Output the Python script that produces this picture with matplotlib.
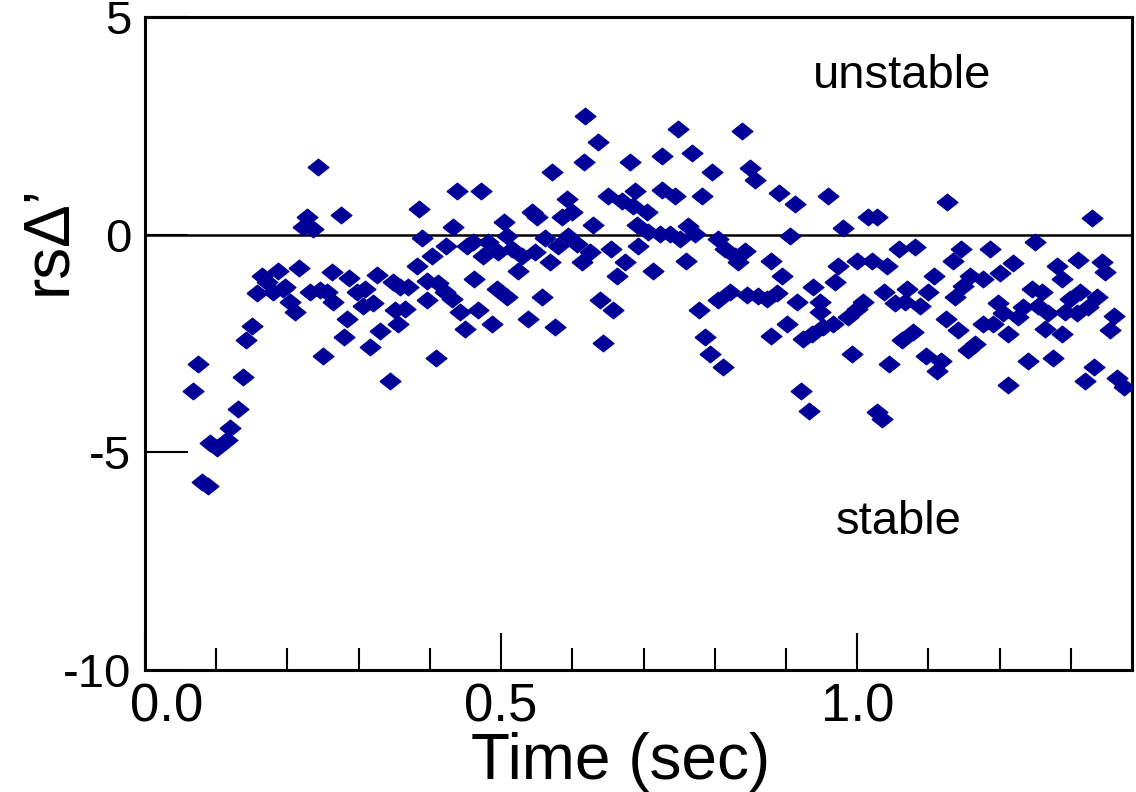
import numpy as np
import matplotlib.pyplot as plt
import matplotlib.transforms as mtransforms
from matplotlib.ticker import MultipleLocator

plt.rcParams['font.family'] = ['Liberation Sans', 'DejaVu Sans']
plt.rcParams['axes.unicode_minus'] = False

# rs*Delta' values, roughly left to right
time_s = [
    0.243, 0.275, 0.228, 0.222, 0.236, 0.187, 0.216, 0.164, 0.171, 0.157,
    0.180, 0.197, 0.204, 0.211, 0.232, 0.246, 0.256, 0.263, 0.287, 0.264,
    0.298, 0.309, 0.306, 0.320, 0.326, 0.348, 0.351, 0.284, 0.280, 0.330,
    0.316, 0.250, 0.344, 0.150, 0.142, 0.074, 0.067, 0.138, 0.131, 0.119,
    0.091, 0.101, 0.115, 0.080, 0.088, 0.355, 0.194,
    0.618, 0.636, 0.617, 0.681, 0.572, 0.438, 0.472, 0.385, 0.593, 0.650,
    0.670, 0.688, 0.685, 0.544, 0.551, 0.586, 0.600, 0.433, 0.504, 0.629,
    0.691, 0.389, 0.508, 0.562, 0.594, 0.423, 0.452, 0.461, 0.482, 0.496,
    0.515, 0.529, 0.548, 0.580, 0.607, 0.625, 0.654, 0.692, 0.403, 0.475,
    0.524, 0.569, 0.614, 0.674, 0.382, 0.663, 0.369, 0.358, 0.396, 0.412,
    0.421, 0.431, 0.462, 0.494, 0.508, 0.558, 0.396, 0.365, 0.442, 0.468,
    0.449, 0.487, 0.538, 0.576, 0.639, 0.657, 0.643, 0.409,
    0.749, 0.838, 0.726, 0.768, 0.796, 0.850, 0.857, 0.726, 0.744, 0.782,
    0.890, 0.913, 0.959, 0.705, 1.015, 1.028, 0.980, 0.706, 0.723, 0.737,
    0.751, 0.763, 0.772, 0.805, 0.906, 0.815, 0.829, 0.843, 0.833, 0.760,
    0.713, 0.879, 0.895, 1.000, 1.021, 1.042, 0.973, 0.969, 0.938, 0.822,
    0.845, 0.861, 0.874, 0.888, 0.805, 0.778, 0.916, 0.948, 0.948, 1.037,
    1.008, 1.000, 0.987, 0.966, 0.952, 0.902, 0.937, 0.924, 0.787, 0.879,
    0.794, 0.812, 0.993, 1.044, 0.921, 0.933, 1.028, 1.035,
    1.126, 1.329, 1.250, 1.058, 1.081, 1.146, 1.187, 1.135, 1.219, 1.310,
    1.344, 1.281, 1.348, 1.288, 1.108, 1.159, 1.177, 1.201, 1.149, 1.070,
    1.246, 1.260, 1.100, 1.138, 1.313, 1.337, 1.299, 1.053, 1.067, 1.088,
    1.198, 1.233, 1.254, 1.324, 1.268, 1.292, 1.309, 1.205, 1.226, 1.360,
    1.124, 1.176, 1.190, 1.142, 1.264, 1.355, 1.212, 1.288, 1.079, 1.063,
    1.166, 1.156, 1.096, 1.117, 1.112, 1.240, 1.275, 1.333, 1.320, 1.212,
    1.365, 1.374,
]
rs_delta = [
    1.56, 0.46, 0.41, 0.18, 0.14, -0.83, -0.76, -0.94, -1.08, -1.35,
    -1.31, -1.19, -1.54, -1.77, -1.31, -1.28, -1.31, -0.85, -0.99, -1.54,
    -1.31, -1.24, -1.63, -1.58, -0.92, -1.08, -1.74, -1.93, -2.36, -2.22,
    -2.59, -2.78, -3.37, -2.09, -2.43, -2.96, -3.58, -3.28, -4.01, -4.45,
    -4.79, -4.91, -4.72, -5.67, -5.78, -2.04, -1.24,
    2.73, 2.13, 1.67, 1.67, 1.44, 1.01, 1.01, 0.60, 0.83, 0.89,
    0.78, 1.01, 0.67, 0.53, 0.41, 0.41, 0.53, 0.18, 0.30, 0.23,
    0.23, -0.07, -0.02, -0.07, -0.02, -0.25, -0.25, -0.16, -0.16, -0.39,
    -0.32, -0.48, -0.39, -0.25, -0.21, -0.39, -0.34, -0.25, -0.50, -0.50,
    -0.83, -0.62, -0.62, -0.62, -0.73, -0.94, -1.19, -1.19, -1.06, -1.12,
    -1.31, -1.47, -1.01, -1.24, -1.44, -1.42, -1.49, -1.70, -1.77, -1.72,
    -2.16, -2.04, -1.93, -2.11, -1.49, -1.74, -2.48, -2.84,
    2.43, 2.39, 1.81, 1.88, 1.44, 1.54, 1.26, 1.03, 0.89, 0.89,
    0.96, 0.71, 0.89, 0.53, 0.41, 0.41, 0.16, 0.07, 0.02, 0.02,
    -0.09, 0.21, 0.02, -0.09, -0.02, -0.32, -0.48, -0.37, -0.62, -0.60,
    -0.83, -0.60, -0.94, -0.60, -0.60, -0.71, -0.73, -1.08, -1.19, -1.31,
    -1.38, -1.40, -1.47, -1.35, -1.51, -1.74, -1.54, -1.54, -1.77, -1.31,
    -1.54, -1.70, -1.88, -2.04, -2.11, -2.04, -2.27, -2.39, -2.34, -2.32,
    -2.73, -3.03, -2.73, -2.96, -3.60, -4.06, -4.08, -4.24,
    0.76, 0.39, -0.16, -0.32, -0.28, -0.32, -0.34, -0.60, -0.64, -0.57,
    -0.62, -0.73, -0.85, -1.01, -0.94, -0.94, -1.01, -0.89, -1.17, -1.24,
    -1.24, -1.31, -1.31, -1.42, -1.31, -1.42, -1.47, -1.58, -1.54, -1.63,
    -1.56, -1.65, -1.63, -1.65, -1.81, -1.77, -1.81, -1.81, -1.88, -1.86,
    -1.93, -2.04, -2.04, -2.18, -2.16, -2.18, -2.27, -2.27, -2.23, -2.43,
    -2.50, -2.66, -2.78, -2.91, -3.14, -2.91, -2.84, -3.03, -3.37, -3.46,
    -3.30, -3.49,
]

x_ticks = [0, 0.5, 1.0]
x_tick_labels = ['0.0', '0.5', '1.0']
y_ticks = [-10, -5, 0, 5]

# slightly flattened diamond like the original symbols
diamond = [(-1, 0), (0, 0.8), (1, 0), (0, -0.8), (-1, 0)]

fig = plt.figure(figsize=(11.36, 7.92), dpi=100)
ax = fig.add_axes([0.1276, 0.154, 0.869, 0.8245])

ax.scatter(time_s, rs_delta, marker=diamond, s=230, c='#000099',
           edgecolors='#000099', linewidths=0.8, zorder=3)
ax.axhline(0, color='black', lw=1.8, zorder=2)

ax.set_xlim(0, 1.386)
ax.set_ylim(-10, 5)
ax.set_yticks(y_ticks)
ax.set_xticks(x_ticks)
ax.set_xticklabels(x_tick_labels)
ax.xaxis.set_minor_locator(MultipleLocator(0.1))

ax.tick_params(axis='y', direction='in', length=31, width=1.5,
               labelsize=34, pad=10, right=False)
ax.tick_params(axis='x', which='major', direction='in', length=27,
               width=1.5, labelsize=38, pad=9, top=False)
ax.tick_params(axis='x', which='minor', direction='in', length=16,
               width=1.5, top=False)
for sp in ax.spines.values():
    sp.set_linewidth(2.2)

# the "0.0" label sits a little right of the corner, clear of "-10"
first = ax.xaxis.get_major_ticks()[0].label1
first.set_transform(first.get_transform() +
                    mtransforms.ScaledTranslation(22 / 100, 0, fig.dpi_scale_trans))

ax.set_xlabel('Time (sec)', fontsize=46, labelpad=0)
ax.xaxis.set_label_coords(0.482, -0.095, transform=ax.transAxes)
ax.xaxis.label.set_va('top')
fig.text(48 / 1136, 1 - 240 / 792, 'rsΔ’', rotation=90, fontsize=46,
         ha='center', va='center')

ax.text(1.063, 3.65, 'unstable', fontsize=34, ha='center', va='center')
ax.text(1.058, -6.6, 'stable', fontsize=34, ha='center', va='center')

fig.savefig('out.png', dpi=100)
